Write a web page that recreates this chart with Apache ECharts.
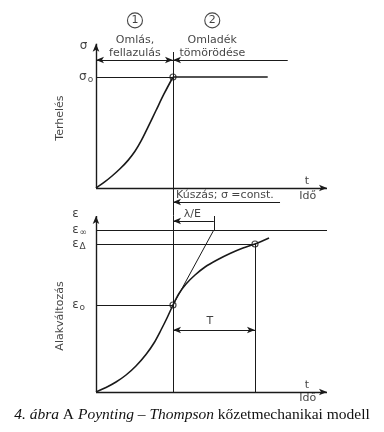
<!DOCTYPE html>
<html><head><meta charset="utf-8">
<script src="https://cdn.jsdelivr.net/npm/echarts@6/dist/echarts.min.js"></script>
<style>html,body{margin:0;padding:0;background:#fff}#c{width:384px;height:432px}</style>
</head><body><div id="c"></div>
<script>
// ---------------- data ----------------
const phaseNumbers = ['1', '2'];
const phaseNames   = [['Omlás,', 'fellazulás'], ['Omladék', 'tömörödése']];
const loadTime   = [0, 1.04, 2.08, 3.12, 4.16, 5.06, 5.84, 6.75, 7.79, 8.83, 10];
const loadSigma  = [0, 0.05, 0.108, 0.173, 0.249, 0.331, 0.422, 0.548, 0.698, 0.847, 1];
const strainTime = [0, 1.3, 2.6, 3.9, 5.19, 6.49, 7.53, 8.44, 9.22, 10, 10.78, 11.69, 12.86, 14.16, 15.71, 17.4, 19.09, 20.65, 22.47];
const strainEps  = [0, 0.45, 1.0, 1.7, 2.6, 3.75, 4.9, 6.2, 7.4, 8.7, 9.85, 10.8, 11.7, 12.5, 13.2, 13.85, 14.4, 14.8, 15.4];
const sigma0 = 1, sigmaAxisTop = 1.3;
const eps0 = 8.7, epsDelta = 14.8, epsInf = 16.2, epsAxisTop = 17.6;
const tCreep = 10;      // end of loading = start of creep
const tLambdaE = 15.3;  // tangent reaches ε∞
const tDelta = 20.65;   // εΔ reached (T later)
const tHoldEnd = 22.3;  // σ0 line end
const tMax = 30;

// ---------------- layout ----------------
const originX = 96, pxT = 7.7, xMin = -12;
const topOriginY = 188, pxS = 111, sMin = -0.25, sMax = 1.6;
const botOriginY = 392, pxE = 10, eMin = -2.5, eMax = 19.5;
const ink = '#1a1a1a';
const FONT = 'DejaVu Sans';

function seg(a, b, s1, s2, w) {
  const ls = {width: w || 1, color: ink, type: 'solid'};
  return [{coord: a, symbol: s1 || 'none', lineStyle: ls}, {coord: b, symbol: s2 || 'none', lineStyle: ls}];
}
function txt(x, y, text, extra) {
  return {value: [x, y], label: Object.assign({show: true, formatter: text}, extra || {})};
}
const zip = (a, b) => a.map((v, i) => [v, b[i]]);
const mlBase = {silent: true, animation: false, symbolSize: [5, 8], label: {show: false}, emphasis: {disabled: true}};
const labelBase = {show: true, position: 'inside', color: '#111', fontFamily: FONT, fontSize: 11,
  rich: {b: {fontFamily: FONT, fontSize: 12, color: '#111'}, s: {fontFamily: FONT, fontSize: 9, color: '#111', padding: [5, 0, 0, 1]}}};

const dimTop = 1.153, tickTop = 1.225, creepArrow = -0.126, dimRight = 24.9, creepEnd = 23.9;
const lamY = 17.1, tArrowY = 6.2;

const option = {
  animation: false,
  backgroundColor: '#fff',
  title: {
    text: '{i|4. ábra} A {i|Poynting – Thompson} kőzetmechanikai modell',
    left: 'center', top: 402,
    textStyle: {fontFamily: 'Liberation Serif', fontSize: 15.5, fontWeight: 'normal', color: '#111',
      rich: {i: {fontFamily: 'Liberation Serif', fontStyle: 'italic', fontSize: 15.5, color: '#111'}}}
  },
  grid: [
    {left: originX + xMin * pxT, width: (tMax - xMin) * pxT, top: topOriginY - sMax * pxS, height: (sMax - sMin) * pxS, outerBoundsMode: 'none'},
    {left: originX + xMin * pxT, width: (tMax - xMin) * pxT, top: botOriginY - eMax * pxE, height: (eMax - eMin) * pxE, outerBoundsMode: 'none'}
  ],
  xAxis: [
    {type: 'value', gridIndex: 0, min: xMin, max: tMax, show: false},
    {type: 'value', gridIndex: 1, min: xMin, max: tMax, show: false}
  ],
  yAxis: [
    {type: 'value', gridIndex: 0, min: sMin, max: sMax, show: false},
    {type: 'value', gridIndex: 1, min: eMin, max: eMax, show: false}
  ],
  series: [
    // ----- top panel: load -----
    {type: 'line', xAxisIndex: 0, yAxisIndex: 0, data: zip(loadTime, loadSigma), smooth: 0.3, symbol: 'none',
     lineStyle: {color: ink, width: 1.6}, silent: true,
     markLine: Object.assign({}, mlBase, {data: [
       seg([0, 0], [0, sigmaAxisTop], 'none', 'arrow', 1.4),
       seg([0, 0], [tMax, 0], 'none', 'arrow', 1.4),
       seg([0, sigma0], [tCreep, sigma0], 'none', 'none', 1),
       seg([tCreep, tickTop], [tCreep, sMin], 'none', 'none', 1),
       seg([0, dimTop], [tCreep, dimTop], 'arrow', 'arrow', 1),
       seg([tCreep, dimTop], [dimRight, dimTop], 'arrow', 'none', 1),
       seg([tCreep, creepArrow], [creepEnd, creepArrow], 'arrow', 'none', 1)
     ]})},
    {type: 'line', xAxisIndex: 0, yAxisIndex: 0, data: [[tCreep, sigma0], [tHoldEnd, sigma0]], symbol: 'none',
     lineStyle: {color: ink, width: 1.6}, silent: true},
    {type: 'scatter', xAxisIndex: 0, yAxisIndex: 0, symbol: 'circle', symbolSize: 6, silent: true,
     itemStyle: {color: '#fff', borderColor: ink, borderWidth: 1.2}, data: [[tCreep, sigma0]]},
    {type: 'scatter', xAxisIndex: 0, yAxisIndex: 0, symbol: 'circle', symbolSize: 15, silent: true,
     itemStyle: {color: '#fff', borderColor: ink, borderWidth: 1.1},
     label: Object.assign({}, labelBase, {fontSize: 11}),
     data: [txt(5.06, 1.51, phaseNumbers[0]), txt(15.1, 1.51, phaseNumbers[1])]},
    {type: 'scatter', xAxisIndex: 0, yAxisIndex: 0, symbolSize: 0, silent: true, label: labelBase,
     data: [
       txt(5.06, 1.33, phaseNames[0][0]), txt(5.06, 1.216, phaseNames[0][1]),
       txt(15.1, 1.33, phaseNames[1][0]), txt(15.1, 1.216, phaseNames[1][1]),
       txt(-2.1, 1.28, '{b|σ}', {align: 'left'}),
       txt(-2.2, sigma0, '{b|σ}{s|o}', {align: 'left'}),
       txt(-4.68, 0.63, 'Terhelés', {rotate: 90}),
       txt(27.4, 0.063, 't'),
       txt(27.5, -0.072, 'Idő'),
       txt(16.75, -0.063, 'Kúszás; σ =const.')
     ]},
    // ----- bottom panel: strain -----
    {type: 'line', xAxisIndex: 1, yAxisIndex: 1, data: zip(strainTime, strainEps), smooth: 0.3, symbol: 'none',
     lineStyle: {color: ink, width: 1.6}, silent: true,
     markLine: Object.assign({}, mlBase, {data: [
       seg([0, 0], [0, epsAxisTop], 'none', 'arrow', 1.4),
       seg([0, 0], [tMax, 0], 'none', 'arrow', 1.4),
       seg([0, epsInf], [tMax, epsInf], 'none', 'none', 1),
       seg([0, epsDelta], [tDelta, epsDelta], 'none', 'none', 1),
       seg([0, eps0], [tCreep, eps0], 'none', 'none', 1),
       seg([tCreep, epsAxisTop], [tCreep, 0], 'none', 'none', 1),
       seg([tDelta, epsDelta], [tDelta, 0], 'none', 'none', 1),
       seg([tCreep, eps0], [tLambdaE, epsInf], 'none', 'none', 1),
       seg([tCreep, lamY], [tLambdaE, lamY], 'arrow', 'none', 1),
       seg([tLambdaE, epsAxisTop], [tLambdaE, epsInf], 'none', 'none', 1),
       seg([tCreep, tArrowY], [tDelta, tArrowY], 'arrow', 'arrow', 1)
     ]})},
    {type: 'scatter', xAxisIndex: 1, yAxisIndex: 1, symbol: 'circle', symbolSize: 6, silent: true,
     itemStyle: {color: '#fff', borderColor: ink, borderWidth: 1.2}, data: [[tCreep, eps0], [tDelta, epsDelta]]},
    {type: 'scatter', xAxisIndex: 1, yAxisIndex: 1, symbolSize: 0, silent: true, label: labelBase,
     data: [
       txt(-3.1, 17.8, '{b|ε}', {align: 'left'}),
       txt(-3.1, epsInf, '{b|ε}{s|∞}', {align: 'left'}),
       txt(-3.1, epsDelta, '{b|ε}{s|Δ}', {align: 'left'}),
       txt(-3.1, eps0, '{b|ε}{s|o}', {align: 'left'}),
       txt(-4.68, 7.6, 'Alakváltozás', {rotate: 90}),
       txt(12.5, 17.8, 'λ/E'),
       txt(14.8, 7.1, 'T'),
       txt(27.4, 0.7, 't'),
       txt(27.5, -0.6, 'Idő')
     ]}
  ]
};
const chart = echarts.init(document.getElementById('c'), null, {renderer: 'canvas'});
chart.setOption(option);
</script></body></html>
